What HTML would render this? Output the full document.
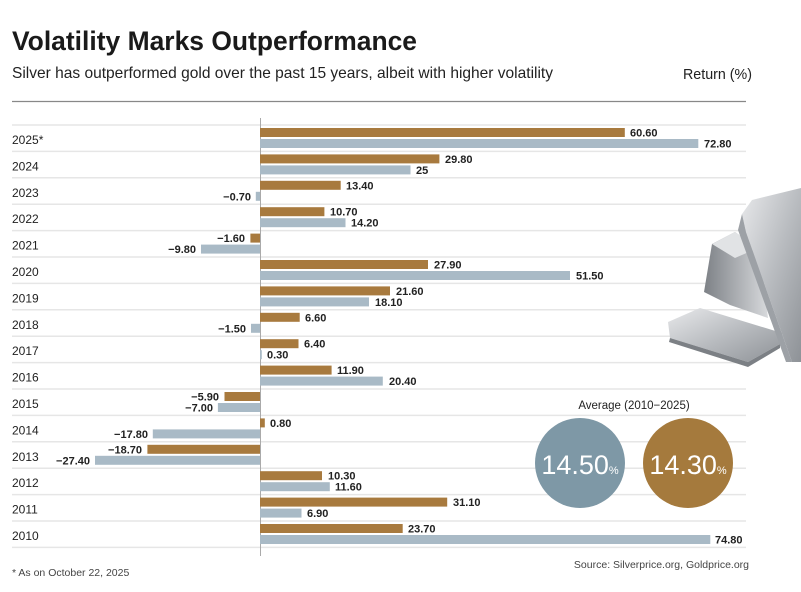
<!DOCTYPE html>
<html><head><meta charset="utf-8"><style>
body{margin:0;background:#fff;}
svg{display:block;font-family:"Liberation Sans",sans-serif;}
.yl{font-size:12px;fill:#222;}
.v{font-size:11px;font-weight:bold;fill:#222;}
.g{fill:#a87a3e;}.s{fill:#a9bac6;}
.gl{stroke:#e6e6e6;stroke-width:1.5;}
</style></head><body>
<svg width="801" height="592" viewBox="0 0 801 592">
<defs>
<linearGradient id="m1" x1="0" y1="0" x2="1" y2="1"><stop offset="0" stop-color="#e8e9eb"/><stop offset=".5" stop-color="#b9bcc0"/><stop offset="1" stop-color="#8e9297"/></linearGradient>
<linearGradient id="m2" x1="0" y1="0" x2="1" y2="0"><stop offset="0" stop-color="#7d8186"/><stop offset="1" stop-color="#d7d9dc"/></linearGradient>
</defs>
<text x="12" y="50" font-size="27" font-weight="bold" fill="#1a1a1a" textLength="405" lengthAdjust="spacingAndGlyphs">Volatility Marks Outperformance</text>
<text x="12" y="78" font-size="16" fill="#222" textLength="541" lengthAdjust="spacingAndGlyphs">Silver has outperformed gold over the past 15 years, albeit with higher volatility</text>
<text x="683" y="79" font-size="15" fill="#222" textLength="69" lengthAdjust="spacingAndGlyphs">Return (%)</text>
<line x1="12" y1="101.5" x2="746" y2="101.5" stroke="#888" stroke-width="1.2"/>
<g class="gl">
<line x1="12" y1="125" x2="746" y2="125"/><line x1="12" y1="151.4" x2="746" y2="151.4"/><line x1="12" y1="177.8" x2="746" y2="177.8"/><line x1="12" y1="204.2" x2="746" y2="204.2"/><line x1="12" y1="230.6" x2="746" y2="230.6"/><line x1="12" y1="257" x2="746" y2="257"/><line x1="12" y1="283.4" x2="746" y2="283.4"/><line x1="12" y1="309.8" x2="746" y2="309.8"/><line x1="12" y1="336.2" x2="746" y2="336.2"/><line x1="12" y1="362.6" x2="746" y2="362.6"/><line x1="12" y1="389" x2="746" y2="389"/><line x1="12" y1="415.4" x2="746" y2="415.4"/><line x1="12" y1="441.8" x2="746" y2="441.8"/><line x1="12" y1="468.2" x2="746" y2="468.2"/><line x1="12" y1="494.6" x2="746" y2="494.6"/><line x1="12" y1="521" x2="746" y2="521"/><line x1="12" y1="547.4" x2="746" y2="547.4"/>
</g>
<!-- silver bars image -->
<g>
<polygon points="668,322 700,308 782,333 780,344 748,362 670,338" fill="url(#m1)"/>
<polygon points="670,338 748,362 780,344 780,348 748,367 669,342" fill="#7c8085"/>
<polygon points="712,244 735,232 760,250 768,318 730,305 704,292" fill="url(#m2)"/>
<polygon points="712,244 735,232 758,248 735,258" fill="#e1e3e5"/>
<polygon points="752,200 801,188 801,362 792,362 746,232 742,214" fill="url(#m1)"/>
<polygon points="742,214 746,232 792,362 786,362 738,230" fill="#9da1a6"/>
</g>
<line x1="260.5" y1="118" x2="260.5" y2="556" stroke="#aaa" stroke-width="1"/>
<g transform="translate(0,125)"><text class="yl" x="12" y="19">2025*</text><rect class="g" x="260" y="3" width="364.8" height="9"/><rect class="s" x="260" y="14" width="438.3" height="9"/><text class="v" x="630" y="11.5">60.60</text><text class="v" x="704" y="22.5">72.80</text></g>
<g transform="translate(0,151.4)"><text class="yl" x="12" y="19">2024</text><rect class="g" x="260" y="3" width="179.4" height="9"/><rect class="s" x="260" y="14" width="150.5" height="9"/><text class="v" x="445" y="11.5">29.80</text><text class="v" x="416" y="22.5">25</text></g>
<g transform="translate(0,177.8)"><text class="yl" x="12" y="19">2023</text><rect class="g" x="260" y="3" width="80.7" height="9"/><rect class="s" x="255.8" y="14" width="4.2" height="9"/><text class="v" x="346" y="11.5">13.40</text><text class="v" x="251" y="22.5" text-anchor="end">−0.70</text></g>
<g transform="translate(0,204.2)"><text class="yl" x="12" y="19">2022</text><rect class="g" x="260" y="3" width="64.4" height="9"/><rect class="s" x="260" y="14" width="85.5" height="9"/><text class="v" x="330" y="11.5">10.70</text><text class="v" x="351" y="22.5">14.20</text></g>
<g transform="translate(0,230.6)"><text class="yl" x="12" y="19">2021</text><rect class="g" x="250.4" y="3" width="9.6" height="9"/><rect class="s" x="201" y="14" width="59" height="9"/><text class="v" x="245" y="11.5" text-anchor="end">−1.60</text><text class="v" x="196" y="22.5" text-anchor="end">−9.80</text></g>
<g transform="translate(0,257)"><text class="yl" x="12" y="19">2020</text><rect class="g" x="260" y="3" width="168" height="9"/><rect class="s" x="260" y="14" width="310" height="9"/><text class="v" x="434" y="11.5">27.90</text><text class="v" x="576" y="22.5">51.50</text></g>
<g transform="translate(0,283.4)"><text class="yl" x="12" y="19">2019</text><rect class="g" x="260" y="3" width="130" height="9"/><rect class="s" x="260" y="14" width="109" height="9"/><text class="v" x="396" y="11.5">21.60</text><text class="v" x="375" y="22.5">18.10</text></g>
<g transform="translate(0,309.8)"><text class="yl" x="12" y="19">2018</text><rect class="g" x="260" y="3" width="39.7" height="9"/><rect class="s" x="251" y="14" width="9" height="9"/><text class="v" x="305" y="11.5">6.60</text><text class="v" x="246" y="22.5" text-anchor="end">−1.50</text></g>
<g transform="translate(0,336.2)"><text class="yl" x="12" y="19">2017</text><rect class="g" x="260" y="3" width="38.5" height="9"/><rect class="s" x="260" y="14" width="1.8" height="9"/><text class="v" x="304" y="11.5">6.40</text><text class="v" x="267" y="22.5">0.30</text></g>
<g transform="translate(0,362.6)"><text class="yl" x="12" y="19">2016</text><rect class="g" x="260" y="3" width="71.6" height="9"/><rect class="s" x="260" y="14" width="122.8" height="9"/><text class="v" x="337" y="11.5">11.90</text><text class="v" x="389" y="22.5">20.40</text></g>
<g transform="translate(0,389)"><text class="yl" x="12" y="19">2015</text><rect class="g" x="224.5" y="3" width="35.5" height="9"/><rect class="s" x="217.9" y="14" width="42.1" height="9"/><text class="v" x="219" y="11.5" text-anchor="end">−5.90</text><text class="v" x="213" y="22.5" text-anchor="end">−7.00</text></g>
<g transform="translate(0,415.4)"><text class="yl" x="12" y="19">2014</text><rect class="g" x="260" y="3" width="4.8" height="9"/><rect class="s" x="152.8" y="14" width="107.2" height="9"/><text class="v" x="270" y="11.5">0.80</text><text class="v" x="148" y="22.5" text-anchor="end">−17.80</text></g>
<g transform="translate(0,441.8)"><text class="yl" x="12" y="19">2013</text><rect class="g" x="147.4" y="3" width="112.6" height="9"/><rect class="s" x="95" y="14" width="165" height="9"/><text class="v" x="142" y="11.5" text-anchor="end">−18.70</text><text class="v" x="90" y="22.5" text-anchor="end">−27.40</text></g>
<g transform="translate(0,468.2)"><text class="yl" x="12" y="19">2012</text><rect class="g" x="260" y="3" width="62" height="9"/><rect class="s" x="260" y="14" width="69.8" height="9"/><text class="v" x="328" y="11.5">10.30</text><text class="v" x="335" y="22.5">11.60</text></g>
<g transform="translate(0,494.6)"><text class="yl" x="12" y="19">2011</text><rect class="g" x="260" y="3" width="187.2" height="9"/><rect class="s" x="260" y="14" width="41.5" height="9"/><text class="v" x="453" y="11.5">31.10</text><text class="v" x="307" y="22.5">6.90</text></g>
<g transform="translate(0,521)"><text class="yl" x="12" y="19">2010</text><rect class="g" x="260" y="3" width="142.7" height="9"/><rect class="s" x="260" y="14" width="450.3" height="9"/><text class="v" x="408" y="11.5">23.70</text><text class="v" x="715" y="22.5">74.80</text></g>
<text x="634" y="409" font-size="11.5" fill="#222" text-anchor="middle">Average (2010−2025)</text>
<circle cx="580" cy="463" r="45" fill="#7e98a6"/>
<circle cx="688" cy="463" r="45" fill="#a57a3d"/>
<text x="580" y="474" text-anchor="middle" fill="#fff"><tspan font-size="27">14.50</tspan><tspan font-size="11">%</tspan></text>
<text x="688" y="474" text-anchor="middle" fill="#fff"><tspan font-size="27">14.30</tspan><tspan font-size="11">%</tspan></text>
<text x="749" y="568" font-size="10.5" fill="#444" text-anchor="end">Source: Silverprice.org, Goldprice.org</text>
<text x="12" y="576" font-size="10.5" fill="#444">* As on October 22, 2025</text>
</svg>
</body></html>
